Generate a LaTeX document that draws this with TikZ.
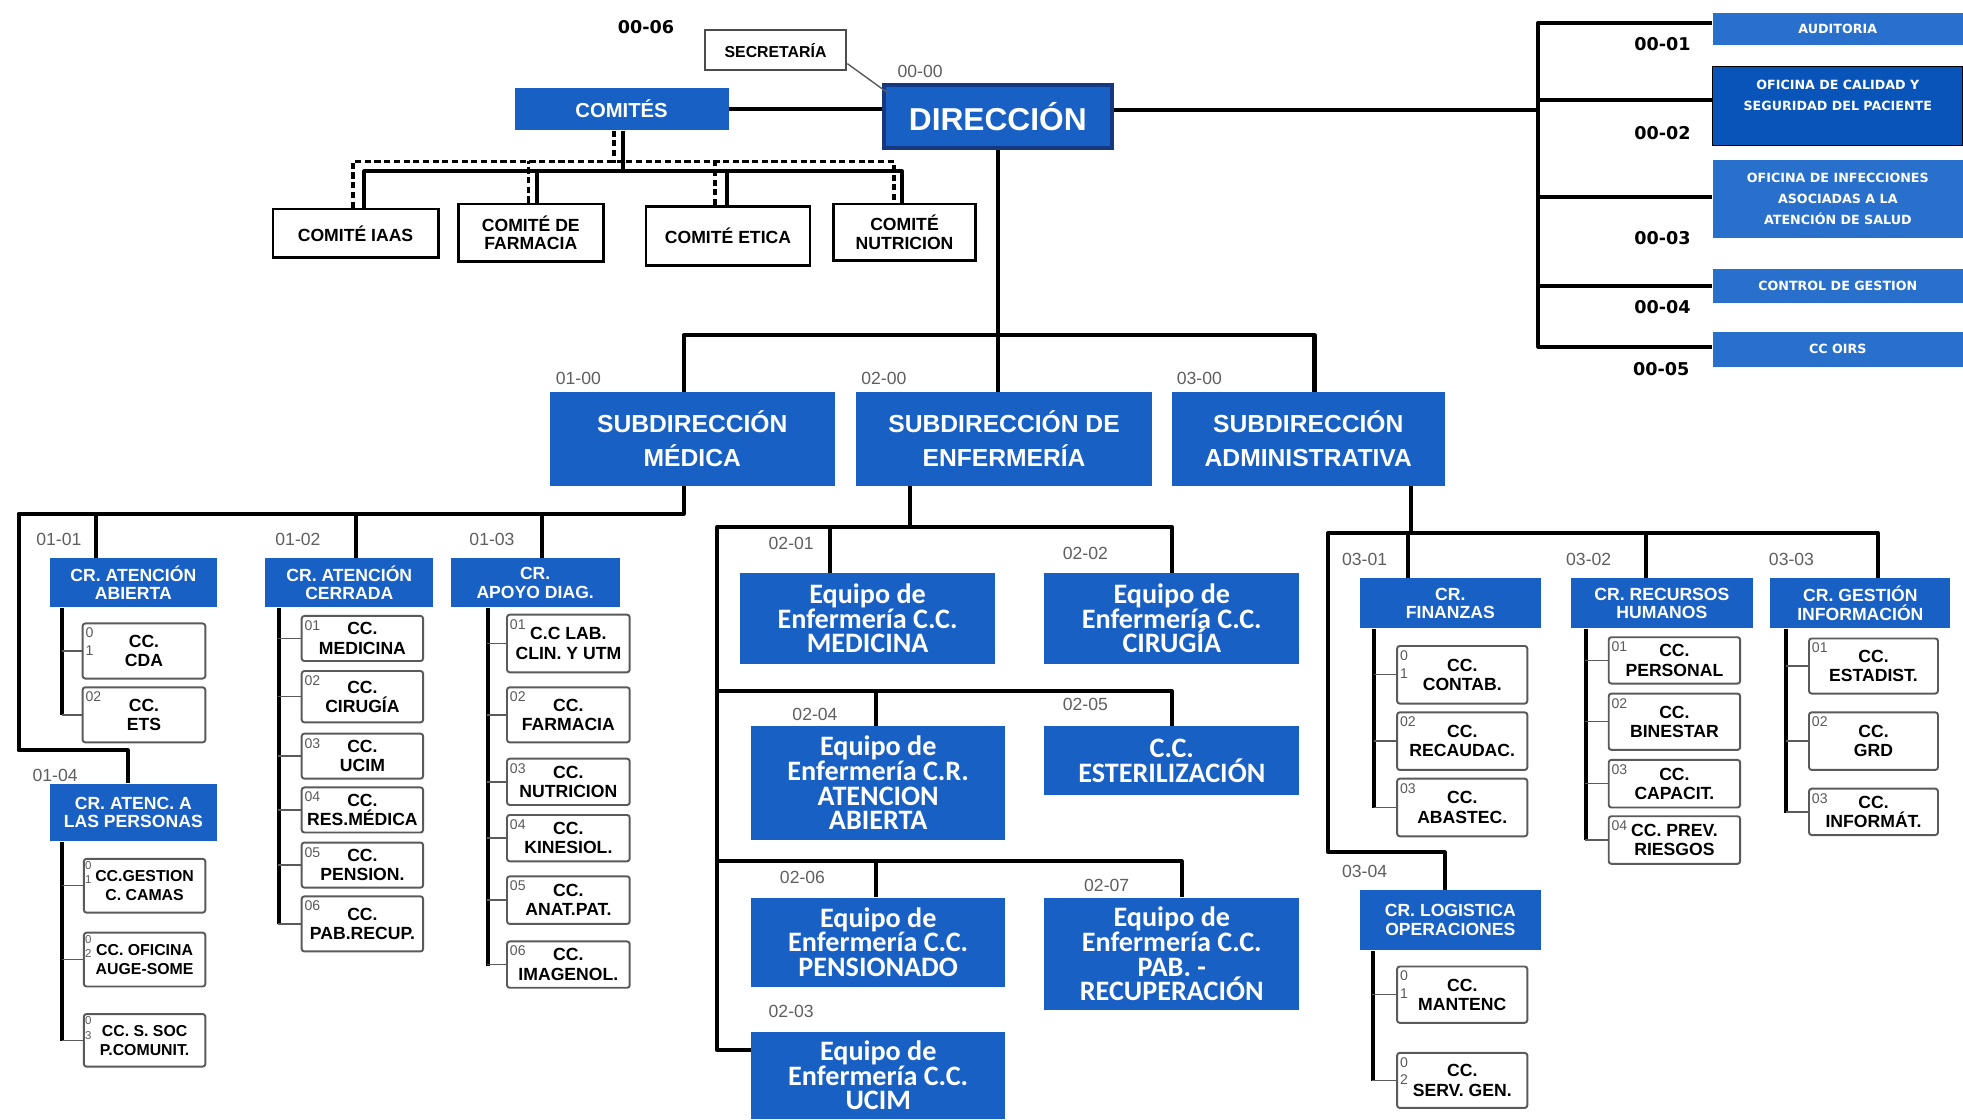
\documentclass[tikz,border=0pt]{standalone}
\usepackage{fontspec}
\setmainfont{Liberation Sans}
\newfontfamily\dejav{DejaVu Sans}
\newfontfamily\carlito{Carlito}
\usetikzlibrary{calc}
\definecolor{bl}{RGB}{24,96,196}
\definecolor{blr}{RGB}{40,112,204}
\definecolor{bldark}{RGB}{8,84,184}
\definecolor{navy}{RGB}{22,55,130}
\definecolor{lgray}{RGB}{90,90,90}
\definecolor{codegray}{RGB}{95,95,95}
\newcommand\mybox[7]{\node[#6, minimum width={(#4-#2)*0.025cm}, minimum height={(#5-#3)*0.025cm}] (#1) at ({(#2+#4)/2},{(#3+#5)/2}) {#7};}
\newcommand\ccb[7]{\mybox{#1}{#2}{#3}{#4}{#5}{ccbox,label={[ccnum]north west:{#6}}}{#7}}
\newcommand\ccs[7]{\mybox{#1}{#2}{#3}{#4}{#5}{ccbox,ccsmall,label={[ccnum,ccnumsmall]north west:{#6}}}{#7}}
\tikzset{
 base/.style={inner sep=0pt, align=center},
 bluebox/.style={base, fill=bl, text=white},
 dirbox/.style={bluebox, draw=navy, line width=2.5pt, font={\fontsize{18}{20}\selectfont\bfseries}},
 combox/.style={bluebox, font={\fontsize{11.5}{13}\selectfont\bfseries}},
 subbox/.style={bluebox, font={\fontsize{14}{19.5}\selectfont\bfseries}},
 crbox/.style={bluebox, font={\fontsize{10}{10.5}\selectfont\bfseries}},
 eqbox/.style={bluebox, font={\carlito\bfseries\fontsize{16}{14}\selectfont}},
 rbox/.style={bluebox, fill=blr, font={\dejav\bfseries\fontsize{7.2}{12}\selectfont}},
 rdbox/.style={rbox, fill=bldark, draw=black, line width=0.8pt},
 wbox/.style={base, draw=black, fill=white, line width=1.6pt, font={\fontsize{10}{10.5}\selectfont\bfseries}},
 secbox/.style={base, draw=black!70, fill=white, line width=1.2pt, font={\fontsize{9}{10}\selectfont\bfseries}},
 ccbox/.style={base, draw=lgray, fill=white, line width=1.1pt, rounded corners=1.5pt, font={\fontsize{10}{11}\selectfont\bfseries}},
 ccsmall/.style={font={\fontsize{9}{11}\selectfont\bfseries}},
 ccnum/.style={anchor=north west, inner sep=0pt, xshift=2pt, yshift=-3pt, align=left, text=lgray, font={\fontsize{8}{10}\selectfont}},
 ccnumsmall/.style={xshift=-1pt, yshift=1pt, font={\fontsize{6.5}{8}\selectfont}},
 code/.style={inner sep=0pt, text=codegray, font={\fontsize{10}{10}\selectfont}},
 bcode/.style={inner sep=0pt, text=black, font={\dejav\bfseries\fontsize{10}{10}\selectfont}},
 conn/.style={line width=2.3pt, line join=round},
 vline/.style={line width=2.3pt},
 stub/.style={line width=0.8pt, draw=lgray},
 dsh/.style={line width=2pt, dash pattern=on 3.5pt off 2pt},
 secline/.style={line width=0.8pt, draw=lgray},
}
\begin{document}
\begin{tikzpicture}[x=0.025cm,y=-0.025cm]
\fill[white] (0,0) rectangle (1568,894);
\useasboundingbox (0,0) rectangle (1568,894);

% ---------- top ----------
\mybox{sec}{563}{24}{676}{56}{secbox}{SECRETARÍA}
\mybox{dir}{706}{68}{888}{118}{dirbox}{DIRECCIÓN}
\mybox{com}{411}{70}{582}{104}{combox}{COMITÉS}
\mybox{c1}{218}{167}{350}{206}{wbox}{COMITÉ IAAS}
\mybox{c2}{366}{163}{482}{209}{wbox}{COMITÉ DE\\FARMACIA}
\mybox{c3}{516}{165}{647}{212}{wbox}{COMITÉ ETICA}
\mybox{c4}{666}{163}{779}{208}{wbox}{COMITÉ\\NUTRICION}
\node[bcode] (b0006) at (516,22) {00-06};
\node[code] (l0000) at (735,57) {00-00};

% ---------- right ----------
\mybox{r1}{1368}{10}{1568}{36}{rbox}{AUDITORIA}
\mybox{r2}{1368}{53}{1568}{116}{rdbox}{OFICINA DE CALIDAD  Y\\SEGURIDAD DEL PACIENTE\\\mbox{}}
\mybox{r3}{1368}{128}{1568}{190}{rbox}{OFICINA DE INFECCIONES\\ASOCIADAS  A LA\\ATENCIÓN  DE SALUD}
\mybox{r4}{1368}{215}{1568}{242}{rbox}{CONTROL DE GESTION}
\mybox{r5}{1368}{265}{1568}{293}{rbox}{CC OIRS}
\node[bcode] (b0001) at (1328,35) {00-01};
\node[bcode] (b0002) at (1328,106) {00-02};
\node[bcode] (b0003) at (1328,190) {00-03};
\node[bcode] (b0004) at (1328,245) {00-04};
\node[bcode] (b0005) at (1327,295) {00-05};

% ---------- subdirecciones ----------
\mybox{s1}{439}{313}{667}{388}{subbox}{SUBDIRECCIÓN\\MÉDICA}
\mybox{s2}{684}{313}{920}{388}{subbox}{SUBDIRECCIÓN DE\\ENFERMERÍA}
\mybox{s3}{936}{313}{1154}{388}{subbox}{SUBDIRECCIÓN\\ADMINISTRATIVA}
\node[code] (l0100) at (462,302) {01-00};
\node[code] (l0200) at (706,302) {02-00};
\node[code] (l0300) at (958,302) {03-00};

% ---------- medical ----------
\mybox{m1}{40}{446}{173}{485}{crbox}{CR. ATENCIÓN\\ABIERTA}
\mybox{m2}{212}{446}{346}{485}{crbox}{CR. ATENCIÓN\\CERRADA}
\mybox{m3}{360}{446}{495}{485}{crbox}{CR.\\APOYO DIAG.}
\mybox{m4}{40}{626}{173}{672}{crbox}{CR. ATENC. A\\LAS PERSONAS}
\node[code] (l0101) at (47,431) {01-01};
\node[code] (l0102) at (238,431) {01-02};
\node[code] (l0103) at (393,431) {01-03};
\node[code] (l0104) at (44,619) {01-04};

\ccb{m1a}{66}{498}{164}{542}{0\\1}{CC.\\CDA}
\ccb{m1b}{66}{549}{164}{593}{02}{CC.\\ETS}

\ccb{m2a}{241}{492}{338}{528}{01}{CC.\\MEDICINA}
\ccb{m2b}{241}{536}{338}{577}{02}{CC.\\CIRUGÍA}
\ccb{m2c}{241}{586}{338}{622}{03}{CC.\\UCIM}
\ccb{m2d}{241}{629}{338}{665}{04}{CC.\\RES.MÉDICA}
\ccb{m2e}{241}{673}{338}{709}{05}{CC.\\PENSION.}
\ccb{m2f}{241}{716}{338}{760}{06}{CC.\\PAB.RECUP.}

\ccb{m3a}{405}{491}{503}{537}{01}{C.C LAB.\\CLIN. Y UTM}
\ccb{m3b}{405}{549}{503}{593}{02}{CC.\\FARMACIA}
\ccb{m3c}{405}{606}{503}{643}{03}{CC.\\NUTRICION}
\ccb{m3d}{405}{651}{503}{688}{04}{CC.\\KINESIOL.}
\ccb{m3e}{405}{700}{503}{738}{05}{CC.\\ANAT.PAT.}
\ccb{m3f}{405}{752}{503}{789}{06}{CC.\\IMAGENOL.}

\ccs{m4a}{67}{686}{164}{729}{0\\1}{CC.GESTION\\C. CAMAS}
\ccs{m4b}{67}{745}{164}{788}{0\\2}{CC. OFICINA\\AUGE-SOME}
\ccs{m4c}{67}{810}{164}{852}{0\\3}{CC. S. SOC\\P.COMUNIT.}

% ---------- enfermeria ----------
\mybox{e1}{591}{458}{795}{530}{eqbox}{Equipo de\\Enfermería C.C.\\MEDICINA}
\mybox{e2}{834}{458}{1038}{530}{eqbox}{Equipo de\\Enfermería C.C.\\CIRUGÍA}
\mybox{e4}{600}{580}{803}{671}{eqbox}{Equipo de\\Enfermería C.R.\\ATENCION\\ABIERTA}
\mybox{e5}{834}{580}{1038}{635}{eqbox}{C.C.\\ESTERILIZACIÓN}
\mybox{e6}{600}{717}{803}{788}{eqbox}{Equipo de\\Enfermería C.C.\\PENSIONADO}
\mybox{e7}{834}{717}{1038}{807}{eqbox}{Equipo de\\Enfermería C.C.\\PAB. -\\RECUPERACIÓN}
\mybox{e3}{600}{824}{803}{894}{eqbox}{Equipo de\\Enfermería C.C.\\UCIM}
\node[code] (l0201) at (632,434) {02-01};
\node[code] (l0202) at (867,442) {02-02};
\node[code] (l0204) at (651,571) {02-04};
\node[code] (l0205) at (867,563) {02-05};
\node[code] (l0206) at (641,701) {02-06};
\node[code] (l0207) at (884,707) {02-07};
\node[code] (l0203) at (632,808) {02-03};
\coordinate (enfbus) at (573,421);
\coordinate (enfbus2) at (573,552);
\coordinate (enfbus3) at (573,688);

% ---------- administrativa ----------
\mybox{a1}{1086}{462}{1231}{502}{crbox}{CR.\\FINANZAS}
\mybox{a2}{1255}{462}{1400}{502}{crbox}{CR. RECURSOS\\HUMANOS}
\mybox{a3}{1414}{462}{1558}{502}{crbox}{CR. GESTIÓN\\INFORMACIÓN}
\mybox{a4}{1086}{711}{1231}{759}{crbox}{CR. LOGISTICA\\OPERACIONES}
\node[code] (l0301) at (1090,447) {03-01};
\node[code] (l0302) at (1269,447) {03-02};
\node[code] (l0303) at (1431,447) {03-03};
\node[code] (l0304) at (1090,696) {03-04};

\ccb{a1a}{1116}{516}{1220}{562}{0\\1}{CC.\\CONTAB.}
\ccb{a1b}{1116}{569}{1220}{615}{02}{CC.\\RECAUDAC.}
\ccb{a1c}{1116}{622}{1220}{668}{03}{CC.\\ABASTEC.}

\ccb{a2a}{1285}{509}{1390}{546}{01}{CC.\\PERSONAL}
\ccb{a2b}{1285}{554}{1390}{599}{02}{CC.\\BINESTAR}
\ccb{a2c}{1285}{607}{1390}{645}{03}{CC.\\CAPACIT.}
\ccb{a2d}{1285}{652}{1390}{690}{04}{CC. PREV.\\RIESGOS}

\ccb{a3a}{1445}{510}{1548}{554}{01}{CC.\\ESTADIST.}
\ccb{a3b}{1445}{569}{1548}{615}{02}{CC.\\GRD}
\ccb{a3c}{1445}{630}{1548}{667}{03}{CC.\\INFORMÁT.}

\ccb{a4a}{1116}{772}{1220}{817}{0\\1}{CC.\\MANTENC}
\ccb{a4b}{1116}{841}{1220}{885}{0\\2}{CC.\\SERV. GEN.}

% ================= connectors =================
% secretaria
\draw[secline] ($(sec.south east)+(0,-6)$) -- ($(dir.north west)+(5,8)$);
% comites - direccion
\draw[conn] (com.east) -- (com.east -| dir.west);
% comites to committees: solid
\draw[conn] ($(com.south)+(1,0)$) -- ++(0,34);
\draw[conn] ($(c1.north)+(7,0)$) -- ++(0,-29) -- ++(429.5,0) -- ++(0,25);
\draw[conn] ($(c2.north)+(5,0)$) -- ++(0,-25);
\draw[conn] ($(c3.north)+(-1,0)$) -- ++(0,-27);
% dashed
\draw[dsh] ($(com.south)+(-6,0)$) -- ++(0,26);
\draw[dsh] ($(c1.north)+(-2,0)$) -- ++(0,-37) -- ++(432,0) -- ++(0,33);
\draw[dsh] ($(c2.north)+(-2,0)$) -- ++(0,-33);
\draw[dsh] ($(c3.north)+(-10.5,0)$) -- ++(0,-35);

% direccion to subdirecciones
\draw[conn] (dir.south) -- (dir.south |- s2.north);
\draw[conn] ($(s1.north)+(-7,0)$) -- ++(0,-45) -- ++(504,0) -- ++(0,45);

% right branch
\coordinate (rb) at (1229,88);
\draw[conn] (dir.east |- rb) -- (rb);
\draw[conn] ($(r1.west)+(0,-5)$) -- ++(-139,0) -- ++(0,259) -- ++(139,0);
\draw[conn] ($(r2.west)+(0,-5)$) -- ++(-139,0);
\draw[conn] ($(r3.west)+(0,-2)$) -- ++(-139,0);
\draw[conn] (r4.west) -- ++(-139,0);

% medical
\draw[conn] ($(s1.south)+(-7,0)$) -- ++(0,22) -- ++(-531,0) -- ++(0,189) -- ++(87,0) -- (m4.north -| 102,0);
\draw[conn] ($(m1.north west)+(37,0)$) -- ++(0,-36);
\draw[conn] ($(m2.north west)+(73,0)$) -- ++(0,-36);
\draw[conn] ($(m3.north west)+(73,0)$) -- ++(0,-36);
\draw[vline] ($(m1.south west)+(10,0)$) -- ++(0,86);
\draw[stub] (m1a.west) -- ++(-16,0);
\draw[stub] (m1b.west) -- ++(-16,0);
\draw[vline] ($(m2.south west)+(11,0)$) -- ++(0,253);
\foreach \n in {m2a,m2b,m2c,m2d,m2e,m2f} {\draw[stub] (\n.west) -- ++(-18,0);}
\draw[vline] ($(m3.south west)+(30,0)$) -- ++(0,286);
\foreach \n in {m3a,m3b,m3c,m3d,m3e,m3f} {\draw[stub] (\n.west) -- ++(-15,0);}
\draw[vline] ($(m4.south west)+(10,0)$) -- ++(0,159);
\foreach \n in {m4a,m4b,m4c} {\draw[stub] (\n.west) -- ++(-17,0);}

% enfermeria
\draw[conn] ($(s2.south)+(-75,0)$) -- ++(0,33);
\draw[conn] ($(e3.west)+(0,-20)$) -| (enfbus) -| (e2.north);
\draw[conn] ($(e1.north west)+(72,0)$) -- ++(0,-37);
\draw[conn] (enfbus2) -| (e5.north);
\draw[conn] ($(e4.north west)+(100,0)$) -- ++(0,-28);
\draw[conn] (enfbus3) -| ($(e7.north)+(8,0)$);
\draw[conn] ($(e6.north west)+(100,0)$) -- ++(0,-29);

% administrativa
\draw[conn] ($(s3.south)+(82,0)$) -- ++(0,38);
\draw[conn] ($(a3.north)+(14,0)$) -- ++(0,-36) -- ++(-439,0) -- ++(0,255) -- ++(93,0) -- ++(0,30);
\draw[conn] ($(a1.north)+(-33.5,0)$) -- ++(0,-36);
\draw[conn] ($(a2.north)+(-12.5,0)$) -- ++(0,-36);
\draw[vline] ($(a1.south west)+(12,0)$) -- ++(0,143);
\foreach \n in {a1a,a1b,a1c} {\draw[stub] (\n.west) -- ++(-18,0);}
\draw[vline] ($(a2.south west)+(12,0)$) -- ++(0,169);
\foreach \n in {a2a,a2b,a2c,a2d} {\draw[stub] (\n.west) -- ++(-18,0);}
\draw[vline] ($(a3.south west)+(13,0)$) -- ++(0,147);
\foreach \n in {a3a,a3b,a3c} {\draw[stub] (\n.west) -- ++(-18,0);}
\draw[vline] ($(a4.south west)+(11,0)$) -- ++(0,104);
\foreach \n in {a4a,a4b} {\draw[stub] (\n.west) -- ++(-19,0);}
\end{tikzpicture}
\end{document}
